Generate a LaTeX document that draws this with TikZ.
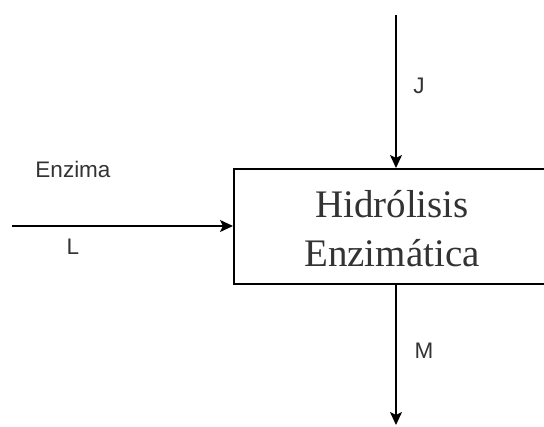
\documentclass[tikz,border=0pt]{standalone}
\usepackage{fontspec}
\setmainfont{Liberation Serif}
\newfontfamily\labelfont{Liberation Sans}
\usetikzlibrary{arrows.meta}
\definecolor{ink}{HTML}{333333}
\begin{document}
\begin{tikzpicture}[x=1pt,y=-1pt,
  flow/.style={line width=1.6pt,-{Stealth[length=13pt,width=12pt,inset=3pt]}},
  procbox/.style={draw,line width=1.6pt,minimum width=400pt,minimum height=115pt,inner sep=0pt},
  flowlabel/.style={font=\labelfont\fontsize{22.5}{26}\selectfont,text=ink,inner sep=0pt},
  boxtext/.style={font=\fontsize{39}{49}\selectfont,text=ink,inner sep=0pt,align=center}]
  \useasboundingbox (0,0) rectangle (544,427);
  \clip (0,0) rectangle (544,427);
  % process block (its right side runs past the frame)
  \node[procbox,anchor=north west] (proc) at (233,168) {};
  \node[boxtext] (title) at (392,229) {Hidrólisis\\Enzimática};
  % streams
  \coordinate (jin) at (396,15);
  \coordinate (lin) at (12,226);
  \coordinate (mout) at (396,425);
  \draw[flow] (jin) -- (jin |- proc.north);
  \draw[flow] (lin) -- (lin -| proc.west);
  \draw[flow] (mout |- proc.south) -- (mout);
  % stream labels
  \node[flowlabel] (jlab) at (419,86) {J};
  \node[flowlabel] (enz) at (73,169) {Enzima};
  \node[flowlabel] (llab) at (73,247) {L};
  \node[flowlabel] (mlab) at (424,351) {M};
\end{tikzpicture}
\end{document}
